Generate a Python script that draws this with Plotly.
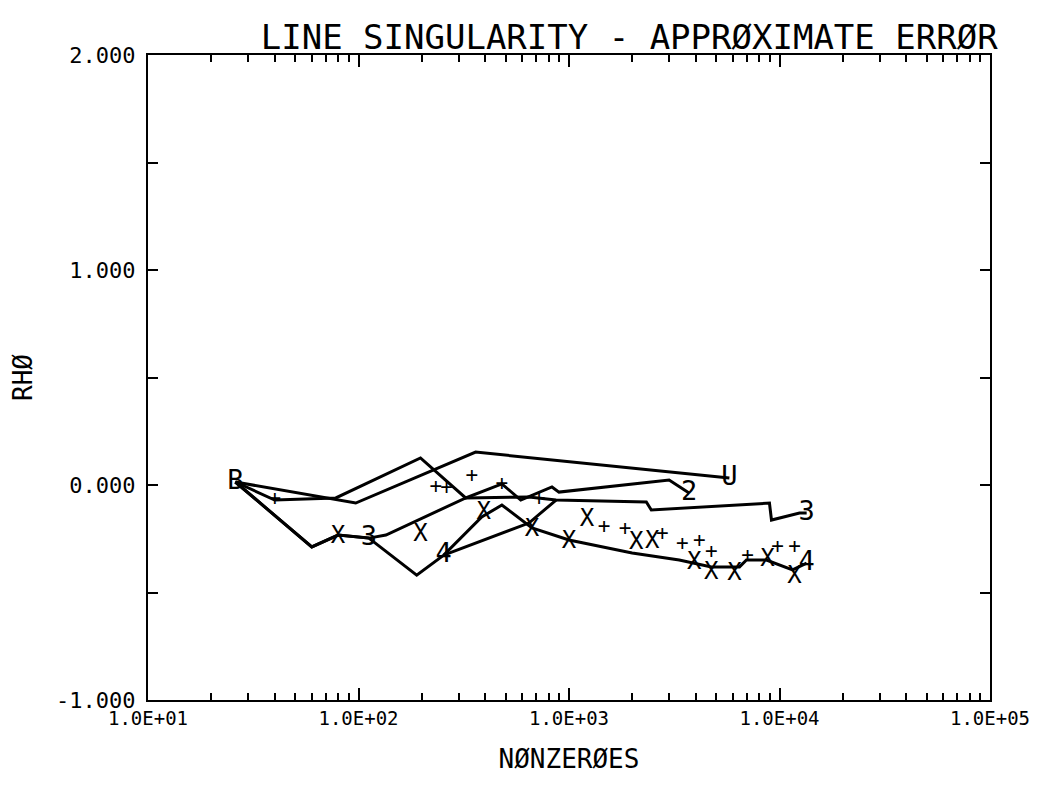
import plotly.graph_objects as go

# ---- data ----
u_x = [26, 97, 360, 5780]
u_y = [0.014, -0.084, 0.153, 0.033]

s2_x = [26, 40, 78, 197, 323, 480, 590, 830, 896, 2990, 3720]
s2_y = [0.014, -0.070, -0.060, 0.126, -0.060, 0.005, -0.070, -0.009, -0.033, 0.023, -0.037]

s3_x = [26, 60, 80, 112, 135, 323, 645, 868, 2330, 2460, 8960, 9160, 12450, 13460]
s3_y = [0.014, -0.288, -0.233, -0.247, -0.233, -0.060, -0.056, -0.070, -0.079, -0.116,
        -0.084, -0.163, -0.130, -0.130]

s4_x = [26, 60, 80, 112, 189, 254, 385, 480, 667, 1000, 1995, 3340, 4745, 6457, 6966,
        8670, 11530, 13460]
s4_y = [0.014, -0.288, -0.233, -0.247, -0.419, -0.326, -0.149, -0.093, -0.200, -0.256,
        -0.316, -0.349, -0.381, -0.381, -0.349, -0.349, -0.395, -0.363]

s5_x = [254, 645, 868]
s5_y = [-0.326, -0.177, -0.070]

x_mark_x = [80, 197, 394, 667, 1000, 1218, 2085, 2483, 3936, 4745, 6109, 8770, 11780]
x_mark_y = [-0.242, -0.233, -0.130, -0.209, -0.265, -0.163, -0.270, -0.265, -0.363,
            -0.409, -0.414, -0.349, -0.428]

p_mark_x = [40, 233, 262, 345, 480, 720, 1468, 1849, 2772, 3451, 4157, 4745, 7047, 9780, 11780]
p_mark_y = [-0.070, -0.014, -0.019, 0.037, 0.000, -0.070, -0.200, -0.209, -0.233, -0.279,
            -0.265, -0.316, -0.335, -0.293, -0.293]

label_text = ["B", "3", "4", "U", "2", "3", "4"]
label_x = [26, 112, 254, 5780, 3720, 13460, 13460]
label_y = [0.014, -0.247, -0.326, 0.033, -0.037, -0.130, -0.363]

x_tickvals = [10, 100, 1000, 10000, 100000]
x_ticktext = ["1.0E+01", "1.0E+02", "1.0E+03", "1.0E+04", "1.0E+05"]
y_tickvals = [-1, 0, 1, 2]
y_ticktext = ["-1.000", "0.000", "1.000", "2.000"]

x_minor = [m * d for d in [10, 100, 1000, 10000] for m in range(2, 10)]

FONT = "DejaVu Sans Mono"
line_style = dict(color="black", width=3)

fig = go.Figure()
for xs, ys in [(u_x, u_y), (s2_x, s2_y), (s3_x, s3_y), (s4_x, s4_y), (s5_x, s5_y)]:
    fig.add_trace(go.Scatter(x=xs, y=ys, mode="lines", line=line_style,
                             showlegend=False, hoverinfo="skip"))

fig.add_trace(go.Scatter(x=x_mark_x, y=x_mark_y, mode="text", text=["X"] * len(x_mark_x),
                         textfont=dict(family=FONT, size=24, color="black"),
                         textposition="middle center", showlegend=False))
fig.add_trace(go.Scatter(x=p_mark_x, y=p_mark_y, mode="text", text=["+"] * len(p_mark_x),
                         textfont=dict(family=FONT, size=21, color="black"),
                         textposition="middle center", showlegend=False))
fig.add_trace(go.Scatter(x=label_x, y=label_y, mode="text", text=label_text,
                         textfont=dict(family=FONT, size=27, color="black"),
                         textposition="middle center", showlegend=False))

fig.update_layout(
    width=1044, height=790,
    margin=dict(l=140, r=62, t=47, b=98, autoexpand=False),
    paper_bgcolor="white", plot_bgcolor="white",
    title=dict(text="LINE SINGULARITY - APPRØXIMATE ERRØR",
               font=dict(family=FONT, size=34, color="black"),
               x=0.595, xanchor="center", xref="container",
               y=0.963, yanchor="middle", yref="container"),
)

fig.update_xaxes(
    type="log", range=[1, 5], automargin=False,
    tickmode="array", tickvals=x_tickvals, ticktext=x_ticktext,
    tickfont=dict(family=FONT, size=19, color="black"),
    ticks="inside", ticklen=12, tickwidth=2, tickcolor="black",
    showline=True, linecolor="black", linewidth=2, mirror="ticks",
    showgrid=False, zeroline=False,
    minor=dict(tickmode="array", tickvals=x_minor, ticks="inside", ticklen=7,
               tickwidth=1.5, tickcolor="black", showgrid=False),
    title=dict(text="NØNZERØES", font=dict(family=FONT, size=26, color="black"), standoff=22),
)
fig.update_yaxes(
    range=[-1, 2], automargin=False,
    tickmode="array", tickvals=y_tickvals, ticktext=y_ticktext,
    tickfont=dict(family=FONT, size=22, color="black"), ticklabelstandoff=6,
    ticks="inside", ticklen=10, tickwidth=2, tickcolor="black",
    showline=True, linecolor="black", linewidth=2, mirror="ticks",
    showgrid=False, zeroline=False,
    minor=dict(dtick=0.5, ticks="inside", ticklen=10, tickwidth=2,
               tickcolor="black", showgrid=False),
    title=dict(text="RHØ", font=dict(family=FONT, size=26, color="black"), standoff=28),
)

fig.write_html("out.html")
